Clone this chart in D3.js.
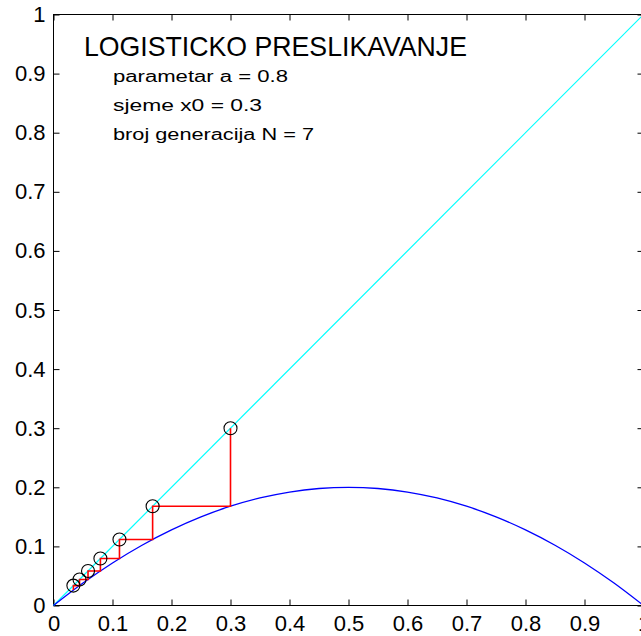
<!DOCTYPE html>
<html>
<head>
<meta charset="utf-8">
<script src="https://cdn.jsdelivr.net/npm/d3@7"></script>
<style>
  html, body { margin: 0; padding: 0; background: #fff; overflow: hidden; }
  svg { display: block; font-family: "Liberation Sans", Arial, sans-serif; }
</style>
</head>
<body>
<svg></svg>
<script>
// tick values and labels
const tickValues = [0, 0.1, 0.2, 0.3, 0.4, 0.5, 0.6, 0.7, 0.8, 0.9, 1];
const tickLabels = ["0", "0.1", "0.2", "0.3", "0.4", "0.5", "0.6", "0.7", "0.8", "0.9", "1"];

// parabola
const curveX = [0, 0.05, 0.1, 0.15, 0.2, 0.25, 0.3, 0.35, 0.4, 0.45, 0.5,
                0.55, 0.6, 0.65, 0.7, 0.75, 0.8, 0.85, 0.9, 0.95, 1];
const curveY = [0, 0.038, 0.072, 0.102, 0.128, 0.15, 0.168, 0.182, 0.192, 0.198, 0.2,
                0.198, 0.192, 0.182, 0.168, 0.15, 0.128, 0.102, 0.072, 0.038, 0];

// generations (circles on the diagonal), last value is the final drop
const orbit = [0.3, 0.168, 0.1118, 0.0795, 0.0585, 0.0441, 0.0337, 0.0261];

const titleText = "LOGISTICKO PRESLIKAVANJE";
const infoLines = ["parametar a = 0.8", "sjeme x0 = 0.3", "broj generacija N = 7"];

const width = 641;
const height = 636;

const svg = d3.select("svg")
    .attr("width", width)
    .attr("height", height);

const x = d3.scaleLinear().domain([0, 1]).range([53.5, 643.5]);
const y = d3.scaleLinear().domain([0, 1]).range([605.5, 14.5]);

// axes with inward ticks
const fmt = (d, i) => tickLabels[i];

const gBottom = svg.append("g")
    .attr("transform", `translate(0,${y(0)})`)
    .call(d3.axisBottom(x).tickValues(tickValues).tickFormat(fmt)
        .tickSizeInner(-6).tickSizeOuter(0).tickPadding(10));

const gLeft = svg.append("g")
    .attr("transform", `translate(${x(0)},0)`)
    .call(d3.axisLeft(y).tickValues(tickValues).tickFormat(fmt)
        .tickSizeInner(-6).tickSizeOuter(0).tickPadding(8));

const gTop = svg.append("g")
    .attr("transform", `translate(0,${y(1)})`)
    .call(d3.axisTop(x).tickValues(tickValues).tickFormat("")
        .tickSizeInner(-6).tickSizeOuter(0));

const gRight = svg.append("g")
    .attr("transform", `translate(${x(1)},0)`)
    .call(d3.axisRight(y).tickValues(tickValues).tickFormat("")
        .tickSizeInner(-6).tickSizeOuter(0));

[gBottom, gLeft, gTop, gRight].forEach(g => {
    g.select(".domain").remove();
    g.selectAll("line").attr("stroke", "#000");
    g.selectAll("text")
        .attr("fill", "#000")
        .style("font-size", "22px")
        .style("font-family", "'Liberation Sans', Arial, sans-serif");
});

// frame
svg.append("rect")
    .attr("x", x(0))
    .attr("y", y(1))
    .attr("width", x(1) - x(0))
    .attr("height", y(0) - y(1))
    .attr("fill", "none")
    .attr("stroke", "#000")
    .attr("stroke-width", 1);

// diagonal y = x
svg.append("line")
    .attr("x1", x(0)).attr("y1", y(0))
    .attr("x2", x(1)).attr("y2", y(1))
    .attr("stroke", "#00ffff")
    .attr("stroke-width", 1.2);

// map curve
const curvePts = curveX.map((v, i) => [v, curveY[i]]);
svg.append("path")
    .datum(curvePts)
    .attr("fill", "none")
    .attr("stroke", "#0000ff")
    .attr("stroke-width", 1.3)
    .attr("d", d3.line().x(d => x(d[0])).y(d => y(d[1])).curve(d3.curveCatmullRom));

// cobweb steps
const cob = [[orbit[0], orbit[0]]];
for (let i = 0; i < orbit.length - 1; i++) {
    cob.push([orbit[i], orbit[i + 1]]);
    if (i + 1 < orbit.length - 1) cob.push([orbit[i + 1], orbit[i + 1]]);
}
svg.append("path")
    .datum(cob)
    .attr("fill", "none")
    .attr("stroke", "#ff0000")
    .attr("stroke-width", 1.6)
    .attr("d", d3.line().x(d => x(d[0])).y(d => y(d[1])));

// circles at each generation
svg.selectAll(".gen")
    .data(orbit.slice(0, orbit.length - 1))
    .enter().append("circle")
    .attr("class", "gen")
    .attr("cx", d => x(d))
    .attr("cy", d => y(d))
    .attr("r", 6.5)
    .attr("fill", "none")
    .attr("stroke", "#000")
    .attr("stroke-width", 1.1);

// annotation text
svg.append("text")
    .attr("x", 84)
    .attr("y", 56)
    .attr("textLength", 383)
    .attr("lengthAdjust", "spacingAndGlyphs")
    .style("font-size", "28px")
    .attr("fill", "#000")
    .text(titleText);

const infoWidths = [175, 149, 201];
svg.selectAll(".info")
    .data(infoLines)
    .enter().append("text")
    .attr("class", "info")
    .attr("x", 113)
    .attr("y", (d, i) => 82 + i * 29)
    .attr("textLength", (d, i) => infoWidths[i])
    .attr("lengthAdjust", "spacingAndGlyphs")
    .style("font-size", "16px")
    .attr("fill", "#000")
    .text(d => d);
</script>
</body>
</html>
